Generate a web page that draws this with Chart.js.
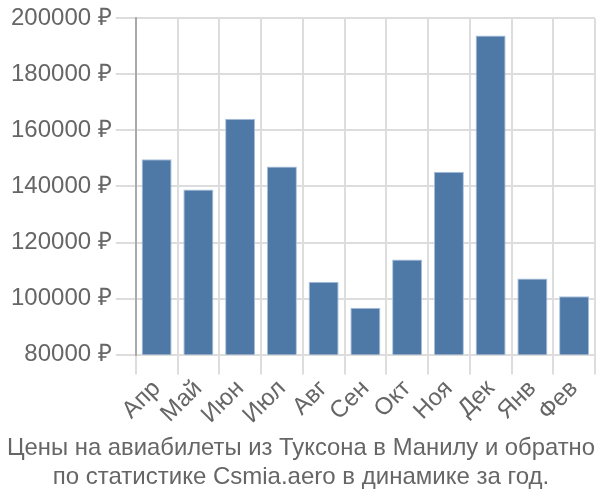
<!DOCTYPE html>
<html>
<head>
<meta charset="utf-8">
<script src="https://cdn.jsdelivr.net/npm/chart.js@4/dist/chart.umd.min.js"></script>
<style>
    html, body { margin: 0; padding: 0; background: #fff; }
    #wrap { width: 600px; height: 500px; }
</style>
</head>
<body>
<div id="wrap"><canvas id="prices"></canvas></div>
<script>
    // data
    var months = ["Апр", "Май", "Июн", "Июл", "Авг", "Сен", "Окт", "Ноя", "Дек", "Янв", "Фев"];
    var prices = [149700, 138900, 164200, 147100, 106000, 96700, 113900, 145300, 193900, 107200, 100800];
    var yMin = 80000, yMax = 200000, yStep = 20000;
    var titleLines = ["Цены на авиабилеты из Туксона в Манилу и обратно", "по статистике Csmia.aero в динамике за год."];

    Chart.defaults.font.family = "'Liberation Sans', Arial, sans-serif";

    var ctx = document.getElementById("prices").getContext("2d");
    var myChart = new Chart(ctx, {
        type: "bar",
        data: {
            labels: months,
            datasets: [{
                data: prices,
                backgroundColor: "#4e79a7",
                borderColor: "#a9c1dc",
                borderWidth: { top: 1, left: 1, right: 1, bottom: 0 },
                categoryPercentage: 1,
                barPercentage: 0.72
            }]
        },
        options: {
            responsive: true,
            maintainAspectRatio: false,
            animation: false,
            layout: { padding: { left: 7, right: 5, top: 0, bottom: 0 } },
            plugins: {
                legend: { display: false },
                tooltip: { enabled: false },
                title: {
                    display: true,
                    position: "bottom",
                    text: titleLines,
                    color: "#666",
                    font: { size: 24, weight: "normal" },
                    padding: { top: 5, bottom: 8 },
                    lineHeight: 1.08
                }
            },
            scales: {
                x: {
                    grid: { color: "#dddddd", lineWidth: 2, offset: true, tickLength: 20 },
                    border: { color: "#dddddd", width: 2 },
                    ticks: { color: "#666", font: { size: 24 }, maxRotation: 45, minRotation: 45, padding: 0, autoSkip: false }
                },
                y: {
                    min: yMin,
                    max: yMax,
                    grid: { color: "#dddddd", lineWidth: 2, tickLength: 20 },
                    border: { color: "#aaaaaa", width: 2 },
                    ticks: {
                        stepSize: yStep,
                        color: "#666",
                        font: { size: 24 },
                        padding: 4,
                        callback: function (v) { return v + " ₽"; }
                    }
                }
            }
        }
    });
</script>
</body>
</html>
